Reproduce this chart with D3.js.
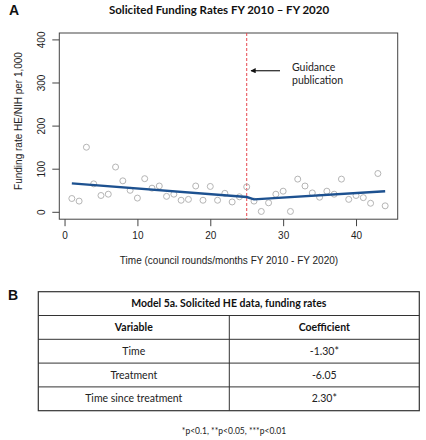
<!DOCTYPE html>
<html><head><meta charset="utf-8">
<script src="https://cdn.jsdelivr.net/npm/d3@7/dist/d3.min.js"></script>
<style>body{margin:0;background:#fff}svg{display:block}</style>
</head><body>
<svg id="c" width="426" height="440"></svg>
<script>
// ---- data ----
const timeT = [1,2,3,4,5,6,7,8,9,10,11,12,13,14,15,16,17,18,19,20,21,22,23,24,25,26,27,28,29,30,31,32,33,34,35,36,37,38,39,40,41,42,43,44];
const rateY = [32,26,151,66,39,42,105,73,51,33,78,56,61,37,42,28,30,61,28,60,28,44,24,36,59,26,2,22,42,49,2,77,61,45,35,49,42,77,30,39,34,21,90,15];
const trendT = [1,25,26,44];
const trendY = [67,35.5,30,49];
const xTicks = [0,10,20,30,40];
const yTicks = [0,100,200,300,400];
const guidanceT = 25;
const tableTitle = "Model 5a. Solicited HE data, funding rates";
const tableHeader = ["Variable","Coefficient"];
const tableVars = ["Time","Treatment","Time since treatment"];
const tableCoefs = ["-1.30*","-6.05","2.30*"];
const footnote = "*p<0.1, **p<0.05, ***p<0.01";

const svg = d3.select("#c");
const cal = "Lato, 'Open Sans', sans-serif";
const ar = "'Liberation Sans', Arial, sans-serif";

const x = d3.scaleLinear().domain([-0.72,45.72]).range([59.3,397.7]);
const y = d3.scaleLinear().domain([-16,416]).range([219.2,33]);

// panel labels & title
svg.append("text").attr("x",9).attr("y",15).attr("font-family",ar).attr("font-weight","bold").attr("font-size",14).attr("fill","#111").text("A");
svg.append("text").attr("x",219).attr("y",14).attr("text-anchor","middle").attr("font-family",cal).attr("font-weight","bold").attr("font-size",11.5).attr("fill","#111").text("Solicited Funding Rates FY 2010 \u2013 FY 2020");

// axes
const axCol = "#444";
const gx = svg.append("g").attr("transform","translate(0,219.2)").call(d3.axisBottom(x).tickValues(xTicks).tickSize(7).tickPadding(6).tickFormat(d3.format("d")));
const gy = svg.append("g").attr("transform","translate(59.3,0)").call(d3.axisLeft(y).tickValues(yTicks).tickSize(7).tickPadding(0).tickFormat(d3.format("d")));
[gx,gy].forEach(g=>{
  g.select(".domain").remove();
  g.selectAll("line").attr("stroke",axCol);
  g.selectAll("text").attr("font-family",ar).attr("font-size",10).attr("fill","#222");
});
gy.selectAll(".tick").attr("transform","translate(0,0)");
gy.selectAll(".tick line").attr("y1",d=>y(d)).attr("y2",d=>y(d));
gy.selectAll("text").attr("x",0).attr("y",0).attr("dy",0).attr("text-anchor","middle")
  .attr("transform",d=>`translate(-14,${y(d)}) rotate(-90)`);
gx.selectAll("text").attr("dy","0.71em");

// box
svg.append("rect").attr("x",59.3).attr("y",33).attr("width",397.7-59.3).attr("height",219.2-33).attr("fill","none").attr("stroke",axCol).attr("stroke-width",1);

// axis titles
svg.append("text").attr("x",229).attr("y",264).attr("text-anchor","middle").attr("font-family",ar).attr("font-size",10).attr("fill","#222").text("Time (council rounds/months FY 2010 - FY 2020)");
svg.append("text").attr("transform","translate(22,121) rotate(-90)").attr("text-anchor","middle").attr("font-family",ar).attr("font-size",10).attr("fill","#222").text("Funding rate HE/NIH per 1,000");

// guidance line
svg.append("line").attr("x1",x(guidanceT)).attr("x2",x(guidanceT)).attr("y1",33).attr("y2",219.2).attr("stroke","#e8474f").attr("stroke-width",1).attr("stroke-dasharray","3,2");
svg.append("defs").append("marker").attr("id","ah").attr("viewBox","0 0 10 10").attr("refX",9).attr("refY",5).attr("markerWidth",4).attr("markerHeight",4).attr("orient","auto")
  .append("path").attr("d","M0,0L10,5L0,10z").attr("fill","#111");
svg.append("line").attr("x1",280).attr("x2",251).attr("y1",70.7).attr("y2",70.7).attr("stroke","#333").attr("stroke-width",1.3).attr("marker-end","url(#ah)");
svg.append("text").attr("x",292).attr("y",71).attr("font-family",cal).attr("font-size",10.5).attr("fill","#222").text("Guidance");
svg.append("text").attr("x",292).attr("y",84).attr("font-family",cal).attr("font-size",10.5).attr("fill","#222").text("publication");

// points
svg.append("g").selectAll("circle").data(timeT).join("circle")
  .attr("cx",d=>x(d)).attr("cy",(d,i)=>y(rateY[i])).attr("r",3)
  .attr("fill","none").attr("stroke","#b5b5b5").attr("stroke-width",1);

// trend
svg.append("path").datum(trendT.map((t,i)=>[t,trendY[i]]))
  .attr("d",d3.line().x(d=>x(d[0])).y(d=>y(d[1])))
  .attr("fill","none").attr("stroke","#1d5190").attr("stroke-width",2.4);

// ---- table ----
svg.append("text").attr("x",8).attr("y",300).attr("font-family",ar).attr("font-weight","bold").attr("font-size",14).attr("fill","#111").text("B");
const tl=38.3, tr=419.3, tc=229.3;
const rows = [291.7,315.5,339.3,363.1,386.9,410.7];
const tg = svg.append("g");
tg.append("rect").attr("x",tl).attr("y",rows[0]).attr("width",tr-tl).attr("height",rows[5]-rows[0]).attr("fill","none").attr("stroke","#333").attr("stroke-width",1.2);
rows.slice(1,5).forEach(r=>tg.append("line").attr("x1",tl).attr("x2",tr).attr("y1",r).attr("y2",r).attr("stroke","#333").attr("stroke-width",1));
tg.append("line").attr("x1",tc).attr("x2",tc).attr("y1",rows[1]).attr("y2",rows[5]).attr("stroke","#333").attr("stroke-width",1);
const mid = i=>(rows[i]+rows[i+1])/2;
tg.append("text").attr("x",(tl+tr)/2).attr("y",mid(0)).attr("dy","0.35em").attr("text-anchor","middle").attr("font-family",cal).attr("font-weight","bold").attr("font-size",10.5).attr("fill","#111").text(tableTitle);
tableHeader.forEach((h,j)=>tg.append("text").attr("x",j?(tc+tr)/2:(tl+tc)/2).attr("y",mid(1)).attr("dy","0.35em").attr("text-anchor","middle").attr("font-family",cal).attr("font-weight","bold").attr("font-size",10.5).attr("fill","#111").text(h));
tableVars.forEach((v,i)=>{
  tg.append("text").attr("x",(tl+tc)/2).attr("y",mid(i+2)).attr("dy","0.35em").attr("text-anchor","middle").attr("font-family",cal).attr("font-size",10.5).attr("fill","#222").text(v);
  tg.append("text").attr("x",(tc+tr)/2).attr("y",mid(i+2)).attr("dy","0.35em").attr("text-anchor","middle").attr("font-family",cal).attr("font-size",10.5).attr("fill","#222").text(tableCoefs[i]);
});
svg.append("text").attr("x",234).attr("y",434).attr("text-anchor","middle").attr("font-family",cal).attr("font-size",8.5).attr("fill","#222").text(footnote);
</script>
</body></html>
